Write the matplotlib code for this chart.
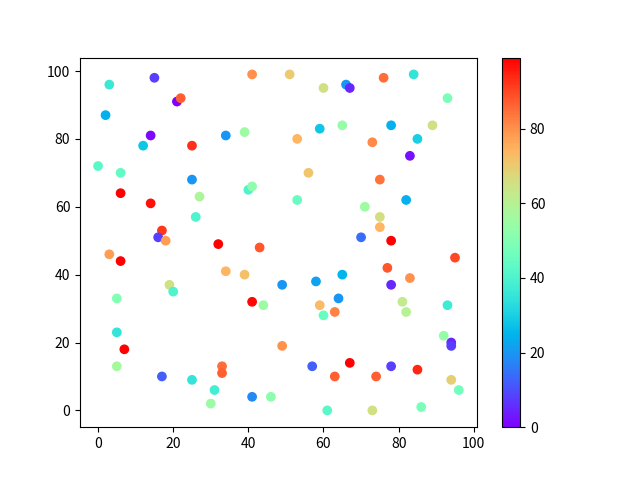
import matplotlib
matplotlib.use("Agg")
import matplotlib.pyplot as plt

plt.rcParams['font.family'] = ['Noto Sans CJK SC', 'DejaVu Sans']

x = [3, 15, 21, 22, 2, 14, 12, 25, 34, 39, 41, 51, 0, 6, 6, 25, 27, 40, 41, 14,
     26, 17, 16, 18, 32, 43, 3, 6, 34, 39, 19, 20, 5, 41, 44, 49, 5, 7, 5, 17,
     25, 33, 33, 31, 30, 41, 46, 49, 66, 67, 60, 76, 84, 93, 53, 59, 65, 78, 89, 73,
     85, 83, 56, 53, 75, 71, 75, 75, 82, 70, 78, 95, 77, 65, 58, 78, 83, 64, 59, 63,
     60, 81, 82, 93, 92, 94, 94, 57, 67, 63, 74, 78, 85, 94, 96, 61, 73, 86]
y = [96, 98, 91, 92, 87, 81, 78, 78, 81, 82, 99, 99, 72, 70, 64, 68, 63, 65, 66, 61,
     57, 53, 51, 50, 49, 48, 46, 44, 41, 40, 37, 35, 33, 32, 31, 37, 23, 18, 13, 10,
     9, 13, 11, 6, 2, 4, 4, 19, 96, 95, 95, 98, 99, 92, 80, 83, 84, 84, 84, 79,
     80, 75, 70, 62, 68, 60, 57, 54, 62, 51, 50, 45, 42, 40, 38, 37, 39, 33, 31, 29,
     28, 32, 29, 31, 22, 20, 19, 13, 14, 10, 10, 13, 12, 9, 6, 0, 0, 1]
c = [36, 8, 0, 87, 24, 1, 28, 93, 20, 55, 80, 70, 42, 44, 99, 20, 58, 40, 52, 97,
     40, 92, 8, 78, 99, 88, 78, 99, 74, 72, 65, 40, 50, 98, 55, 20, 35, 99, 57, 12,
     35, 85, 87, 38, 55, 18, 52, 80, 20, 5, 65, 85, 35, 48, 74, 28, 54, 24, 65, 81,
     30, 2, 71, 45, 84, 55, 66, 74, 24, 14, 99, 90, 88, 25, 22, 5, 80, 20, 73, 82,
     45, 62, 60, 37, 54, 5, 8, 12, 99, 87, 87, 8, 94, 69, 47, 42, 65, 48]

fig, ax = plt.subplots(figsize=(6.4, 4.8), dpi=100)
sc = ax.scatter(x, y, c=c, cmap='rainbow')
fig.colorbar(sc)
fig.savefig('out.png')
